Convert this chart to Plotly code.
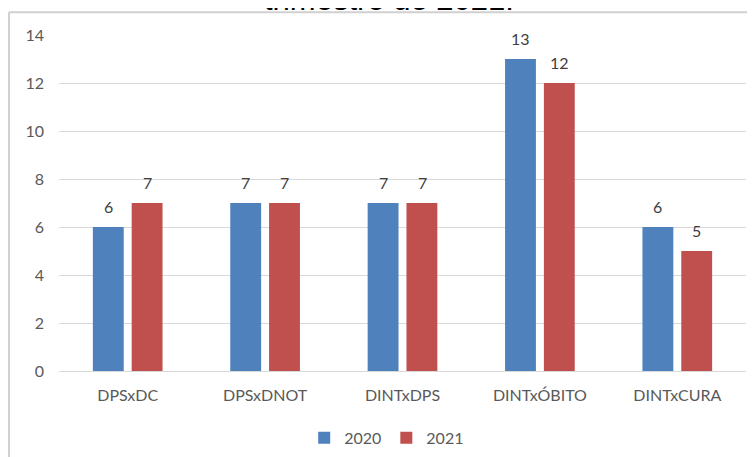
import plotly.graph_objects as go

categories = ["DPSxDC", "DPSxDNOT", "DINTxDPS", "DINTxÓBITO", "DINTxCURA"]
values_2020 = [6, 7, 7, 13, 6]
values_2021 = [7, 7, 7, 12, 5]
series_names = ["2020", "2021"]
y_ticks = [0, 2, 4, 6, 8, 10, 12, 14]
title_text = "trimestre de 2021."

BLUE = "#4F81BD"
RED = "#C0504D"
GRID = "#D9D9D9"
FONT = "Lato, Liberation Sans, Arial, sans-serif"

fig = go.Figure()
fig.add_trace(go.Bar(name=series_names[0], x=categories, y=values_2020, marker_color=BLUE,
                     marker_line_width=0))
fig.add_trace(go.Bar(name=series_names[1], x=categories, y=values_2021, marker_color=RED,
                     marker_line_width=0))

annotations = []
for vals, shift in ((values_2020, -19.5), (values_2021, 19.5)):
    for c, v in zip(categories, vals):
        annotations.append(dict(x=c, y=v, xref="x", yref="y", text=str(v), showarrow=False,
                                xshift=shift, yshift=9, yanchor="bottom",
                                font=dict(family=FONT, size=16, color="#404040")))

annotations.append(dict(x=0.480, y=1.0476, xref="paper", yref="paper", text=title_text,
                        showarrow=False, xanchor="center", yanchor="bottom",
                        font=dict(family="Liberation Sans, Arial, sans-serif", size=31, color="#000000")))

border = dict(color="#D0D0D0", width=2)
fig.update_layout(
    width=747, height=449,
    margin=dict(l=51, r=9, t=27, b=86, autoexpand=False),
    paper_bgcolor="white", plot_bgcolor="white",
    barmode="group", bargap=0.435, bargroupgap=0.205,
    font=dict(family=FONT, size=16, color="#595959"),
    showlegend=True,
    legend=dict(orientation="h", x=0.477, xanchor="center", y=-0.199, yanchor="middle",
                font=dict(family=FONT, size=16, color="#595959"), itemwidth=30,
                traceorder="normal"),
    annotations=annotations,
    shapes=[
        dict(type="line", xref="paper", yref="paper", x0=-0.0728, x1=-0.0728,
             y0=-0.35, y1=1.068, line=border, layer="above"),
        dict(type="line", xref="paper", yref="paper", x0=-0.0728, x1=1.05,
             y0=1.068, y1=1.068, line=border, layer="above"),
    ],
    xaxis=dict(showline=True, linecolor=GRID, linewidth=1, ticks="", ticklabelstandoff=10,
               tickfont=dict(family=FONT, size=16, color="#595959"), showgrid=False),
    yaxis=dict(range=[0, 14], tickvals=y_ticks, showgrid=True, gridcolor=GRID, gridwidth=1,
               zeroline=False, showline=False, ticks="", ticklabelstandoff=14,
               tickfont=dict(family=FONT, size=16, color="#595959")),
)

fig.write_html("out.html")
